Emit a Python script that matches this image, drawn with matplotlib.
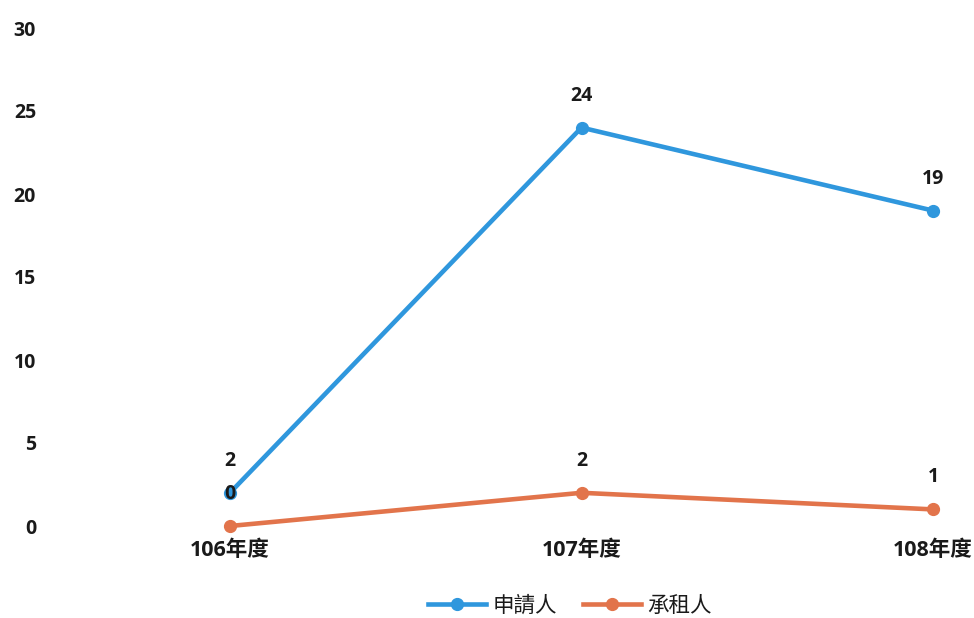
import matplotlib.pyplot as plt

plt.rcParams['font.family'] = ['Open Sans', 'Noto Sans CJK TC', 'DejaVu Sans']

# ----- Data ----- #
years = ['106年度', '107年度', '108年度']
applicants = [2, 24, 19]   # 申請人
tenants = [0, 2, 1]        # 承租人

blue = '#2F97DD'
orange = '#E2744B'
txt = '#1a1a1a'

fig = plt.figure(figsize=(9.74, 6.18), dpi=100)
ax = fig.add_axes([50/974, 92/618, 910/974, 498/618])

x = list(range(len(years)))
ax.plot(x, applicants, color=blue, lw=3.3, marker='o', ms=8.5, label='申請人', clip_on=False, zorder=3)
ax.plot(x, tenants, color=orange, lw=3.3, marker='o', ms=8.5, label='承租人', clip_on=False, zorder=3)

# data labels above points
for series in (applicants, tenants):
    for xi, v in zip(x, series):
        ax.annotate(str(v), (xi, v), xytext=(0, 23), textcoords='offset points',
                    ha='center', va='center', fontsize=14, fontweight='bold', color=txt)

ax.set_xlim(-(230-50)/351.5, 2 + (960-933)/351.5)
ax.set_ylim(0, 30)
ax.set_yticks([0, 5, 10, 15, 20, 25, 30])
ax.set_xticks(x)
ax.set_xticklabels(years)
for s in ax.spines.values():
    s.set_visible(False)
ax.tick_params(length=0, labelsize=14, colors=txt)
ax.tick_params(axis='y', pad=10)
ax.tick_params(axis='x', pad=10, labelsize=15.5)
for lbl in ax.get_xticklabels() + ax.get_yticklabels():
    lbl.set_fontweight('bold')

ax.legend(loc='center', bbox_to_anchor=(570/974, (618-606)/618), bbox_transform=fig.transFigure,
          ncol=2, frameon=False, fontsize=15.5, handlelength=2.7, columnspacing=1.2,
          handletextpad=0.3, labelcolor=txt)

fig.savefig('out.png', dpi=100, facecolor='white')
